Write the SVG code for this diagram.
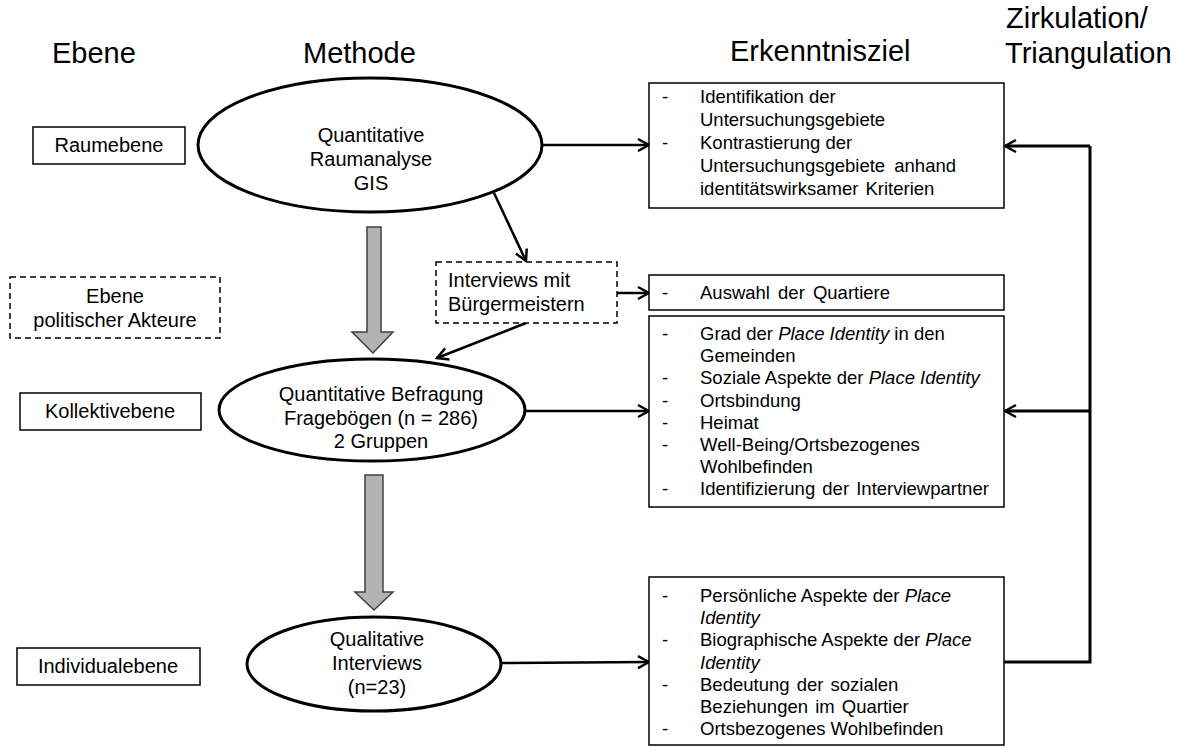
<svg xmlns="http://www.w3.org/2000/svg" width="1190" height="748" viewBox="0 0 1190 748">
<style>
text{font-family:"Liberation Sans",Arial,sans-serif;fill:#000}
.h{font-size:29px}
.t{font-size:20px}
.b{font-size:18.5px}
.c{text-anchor:middle}
.box{fill:#fff;stroke:#000;stroke-width:1.5}
.dbox{fill:#fff;stroke:#000;stroke-width:1.5;stroke-dasharray:6 4}
.ell{fill:#fff;stroke:#000;stroke-width:3}
.con{fill:none;stroke:#000;stroke-width:2.5}
.loop{fill:none;stroke:#000;stroke-width:3}
.big{fill:#b3b3b3;stroke:#404040;stroke-width:1.5}
</style>
<defs>
<marker id="ah" markerUnits="userSpaceOnUse" markerWidth="16" markerHeight="16" viewBox="0 0 16 16" refX="14" refY="8" orient="auto">
<path d="M3,2 L14,8 L3,14" fill="none" stroke="#000" stroke-width="2.5"/>
</marker>
</defs>
<rect width="1190" height="748" fill="#fff"/>
<g id="headings">
<text class="h" x="52" y="63">Ebene</text>
<text class="h" x="303" y="63">Methode</text>
<text class="h" x="730" y="61">Erkenntnisziel</text>
<text class="h" x="1006" y="28">Zirkulation/</text>
<text class="h" x="1005" y="63">Triangulation</text>
</g>
<g id="connectors">
<path class="big" d="M367,227 H381 V332 H393 L373,353 L352,332 H367 Z"/>
<path class="big" d="M365,475 H383 V592 H393 L374,610 L355,592 H365 Z"/>
<line class="con" x1="543" y1="145" x2="649" y2="145" marker-end="url(#ah)"/>
<line class="con" x1="494" y1="193" x2="526" y2="261" marker-end="url(#ah)"/>
<line class="con" x1="617" y1="293" x2="649" y2="293" marker-end="url(#ah)"/>
<line class="con" x1="526" y1="323" x2="437" y2="358" marker-end="url(#ah)"/>
<line class="con" x1="526" y1="411" x2="649" y2="411" marker-end="url(#ah)"/>
<line class="con" x1="501" y1="663" x2="649" y2="662" marker-end="url(#ah)"/>
<path class="loop" d="M1004,662 H1090 V146"/>
<line class="loop" x1="1090" y1="146" x2="1005" y2="146" marker-end="url(#ah)"/>
<line class="loop" x1="1090" y1="411" x2="1005" y2="411" marker-end="url(#ah)"/>
</g>
<g id="raumebene">
<rect class="box" x="33" y="127" width="152" height="37"/>
<text class="t c" x="109" y="152">Raumebene</text>
</g>
<g id="politisch">
<rect class="dbox" x="10" y="277" width="210" height="61"/>
<text class="t c" x="115" y="303">Ebene</text>
<text class="t c" x="115" y="327">politischer Akteure</text>
</g>
<g id="kollektivebene">
<rect class="box" x="20" y="393" width="181" height="37"/>
<text class="t c" x="110" y="418">Kollektivebene</text>
</g>
<g id="individualebene">
<rect class="box" x="17" y="648" width="183" height="37"/>
<text class="t c" x="108" y="673">Individualebene</text>
</g>
<g id="gis">
<ellipse class="ell" cx="370" cy="145" rx="172" ry="67"/>
<text class="t c" x="371" y="142">Quantitative</text>
<text class="t c" x="371" y="166">Raumanalyse</text>
<text class="t c" x="371" y="190">GIS</text>
</g>
<g id="interviews">
<rect class="dbox" x="436" y="262" width="181" height="61"/>
<text class="t" x="448" y="287">Interviews mit</text>
<text class="t" x="448" y="311">Bürgermeistern</text>
</g>
<g id="befragung">
<ellipse class="ell" cx="372" cy="410" rx="153" ry="51"/>
<text class="t c" x="381" y="401">Quantitative Befragung</text>
<text class="t c" x="381" y="425">Fragebögen (n = 286)</text>
<text class="t c" x="381" y="448">2 Gruppen</text>
</g>
<g id="qualitativ">
<ellipse class="ell" cx="374" cy="664" rx="127" ry="47"/>
<text class="t c" x="377" y="646">Qualitative</text>
<text class="t c" x="377" y="670">Interviews</text>
<text class="t c" x="377" y="694">(n=23)</text>
</g>
<g id="ziel1">
<rect class="box" x="649" y="83" width="355" height="125"/>
<text class="b" x="662" y="103">-</text>
<text class="b" x="700" y="103">Identifikation der</text>
<text class="b" x="700" y="126">Untersuchungsgebiete</text>
<text class="b" x="662" y="149">-</text>
<text class="b" x="700" y="149">Kontrastierung der</text>
<text class="b" x="700" y="172" word-spacing="4">Untersuchungsgebiete anhand</text>
<text class="b" x="700" y="195" word-spacing="2">identitätswirksamer Kriterien</text>
</g>
<g id="ziel2">
<rect class="box" x="649" y="275" width="355" height="35"/>
<text class="b" x="662" y="299">-</text>
<text class="b" x="700" y="299" word-spacing="3">Auswahl der Quartiere</text>
</g>
<g id="ziel3">
<rect class="box" x="649" y="316" width="355" height="191"/>
<text class="b" x="662" y="340">-</text>
<text class="b" x="700" y="340">Grad der <tspan font-style="italic">Place Identity</tspan> in den</text>
<text class="b" x="700" y="362">Gemeinden</text>
<text class="b" x="662" y="384">-</text>
<text class="b" x="700" y="384">Soziale Aspekte der <tspan font-style="italic">Place Identity</tspan></text>
<text class="b" x="662" y="407">-</text>
<text class="b" x="700" y="407">Ortsbindung</text>
<text class="b" x="662" y="429">-</text>
<text class="b" x="700" y="429">Heimat</text>
<text class="b" x="662" y="451">-</text>
<text class="b" x="700" y="451">Well-Being/Ortsbezogenes</text>
<text class="b" x="700" y="473">Wohlbefinden</text>
<text class="b" x="662" y="495">-</text>
<text class="b" x="700" y="495" word-spacing="2">Identifizierung der Interviewpartner</text>
</g>
<g id="ziel4">
<rect class="box" x="649" y="577" width="355" height="168"/>
<text class="b" x="662" y="602">-</text>
<text class="b" x="700" y="602">Persönliche Aspekte der <tspan font-style="italic">Place</tspan></text>
<text class="b" x="700" y="624" font-style="italic">Identity</text>
<text class="b" x="662" y="646">-</text>
<text class="b" x="700" y="646">Biographische Aspekte der <tspan font-style="italic">Place</tspan></text>
<text class="b" x="700" y="669" font-style="italic">Identity</text>
<text class="b" x="662" y="691">-</text>
<text class="b" x="700" y="691" word-spacing="2">Bedeutung der sozialen</text>
<text class="b" x="700" y="713" word-spacing="2">Beziehungen im Quartier</text>
<text class="b" x="662" y="735">-</text>
<text class="b" x="700" y="735">Ortsbezogenes Wohlbefinden</text>
</g>
</svg>
